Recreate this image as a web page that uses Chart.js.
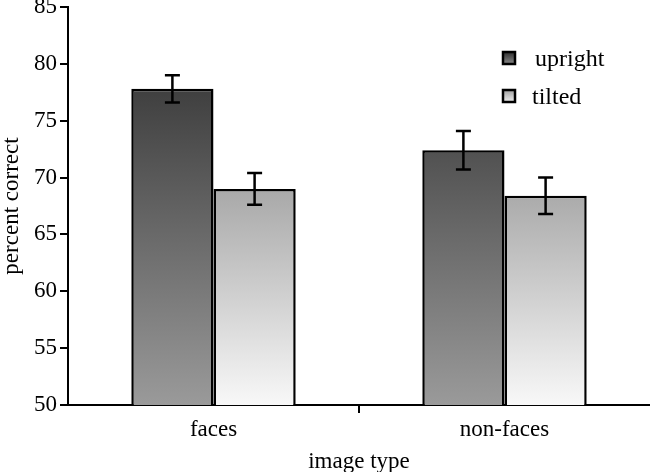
<!DOCTYPE html>
<html>
<head>
<meta charset="utf-8">
<script src="https://cdn.jsdelivr.net/npm/chart.js@4/dist/chart.umd.min.js"></script>
<style>
  body { margin: 0; background: #fff; }
  #wrap { width: 650px; height: 472px; position: relative; }
</style>
</head>
<body>
<div id="wrap"><canvas id="chart"></canvas></div>
<script>
const categories = ["faces", "non-faces"];
const uprightValues = [77.8, 72.4];
const tiltedValues = [69.0, 68.4];
const uprightErrors = [1.2, 1.7];
const tiltedErrors = [1.4, 1.6];
const yMin = 50, yMax = 85, yStep = 5;

const serif = "'Liberation Serif', 'Times New Roman', serif";

function areaGradient(chart, topColor, bottomColor) {
  const area = chart.chartArea;
  if (!area) return topColor;
  const g = chart.ctx.createLinearGradient(0, area.top, 0, area.bottom);
  g.addColorStop(0, topColor);
  g.addColorStop(1, bottomColor);
  return g;
}

// error bars drawn on top of each bar
const errorBars = {
  id: "errorBars",
  afterDatasetsDraw(chart) {
    const ctx = chart.ctx;
    const y = chart.scales.y;
    ctx.save();
    ctx.strokeStyle = "#000";
    ctx.lineWidth = 2.5;
    chart.data.datasets.forEach((ds, i) => {
      chart.getDatasetMeta(i).data.forEach((bar, j) => {
        const v = ds.data[j], e = ds.errors[j];
        const top = y.getPixelForValue(v + e);
        const bot = y.getPixelForValue(v - e);
        ctx.beginPath();
        ctx.moveTo(bar.x, top); ctx.lineTo(bar.x, bot);
        ctx.moveTo(bar.x - 7.5, top); ctx.lineTo(bar.x + 7.5, top);
        ctx.moveTo(bar.x - 7.5, bot); ctx.lineTo(bar.x + 7.5, bot);
        ctx.stroke();
      });
    });
    ctx.restore();
  }
};

// small legend in the upper right, like the original figure
const boxLegend = {
  id: "boxLegend",
  afterDraw(chart) {
    const ctx = chart.ctx;
    const rows = [
      { label: chart.data.datasets[0].label, y: 52, tx: 535, c1: "#2e2e2e", c2: "#8a8a8a" },
      { label: chart.data.datasets[1].label, y: 90, tx: 532, c1: "#a0a0a0", c2: "#ececec" }
    ];
    ctx.save();
    rows.forEach(r => {
      const g = ctx.createLinearGradient(0, r.y, 0, r.y + 12);
      g.addColorStop(0, r.c1);
      g.addColorStop(1, r.c2);
      ctx.fillStyle = g;
      ctx.fillRect(503, r.y, 12, 12);
      ctx.strokeStyle = "#000";
      ctx.lineWidth = 2.5;
      ctx.strokeRect(503, r.y, 12, 12);
      ctx.fillStyle = "#000";
      ctx.font = "24px " + serif;
      ctx.textBaseline = "alphabetic";
      ctx.fillText(r.label, r.tx, r.y + 14);
    });
    ctx.restore();
  }
};

new Chart("chart", {
  type: "bar",
  data: {
    labels: categories,
    datasets: [{
      label: "upright",
      data: uprightValues,
      errors: uprightErrors,
      backgroundColor: c => areaGradient(c.chart, "#282828", "#9a9a9a"),
      borderColor: "#000",
      borderWidth: 2.5,
      borderSkipped: false
    }, {
      label: "tilted",
      data: tiltedValues,
      errors: tiltedErrors,
      backgroundColor: c => areaGradient(c.chart, "#656565", "#f8f8f8"),
      borderColor: "#000",
      borderWidth: 2.5,
      borderSkipped: false
    }]
  },
  options: {
    responsive: true,
    maintainAspectRatio: false,
    animation: false,
    layout: { padding: { top: 7, right: 0, left: 0, bottom: 0 } },
    datasets: { bar: { categoryPercentage: 0.565, barPercentage: 1 } },
    plugins: {
      legend: { display: false },
      tooltip: { enabled: false }
    },
    scales: {
      x: {
        offset: true,
        afterFit(scale) { scale.height = 67; },
        grid: {
          offset: true,
          drawOnChartArea: false,
          tickLength: 8,
          lineWidth: 2,
          color: c => c.index === 1 ? "#000" : "rgba(0,0,0,0)"
        },
        border: { display: true, color: "#000", width: 2 },
        ticks: { color: "#000", padding: 3, font: { family: serif, size: 23 } },
        title: {
          display: true, text: "image type", color: "#000",
          font: { family: serif, size: 23, lineHeight: 0.9 }, padding: { top: 0, bottom: 0 }
        }
      },
      y: {
        min: yMin, max: yMax,
        afterFit(scale) { scale.width = 68; },
        grid: { drawOnChartArea: false, tickLength: 8, color: "#000", lineWidth: 2 },
        border: { display: true, color: "#000", width: 2 },
        ticks: {
          stepSize: yStep, color: "#000", padding: 3,
          font: { family: serif, size: 23, lineHeight: 0.3 }
        },
        title: {
          display: true, text: "percent correct", color: "#000",
          font: { family: serif, size: 23, lineHeight: 1 }, padding: { top: 0, bottom: 0 }
        }
      }
    }
  },
  plugins: [errorBars, boxLegend]
});
</script>
</body>
</html>
